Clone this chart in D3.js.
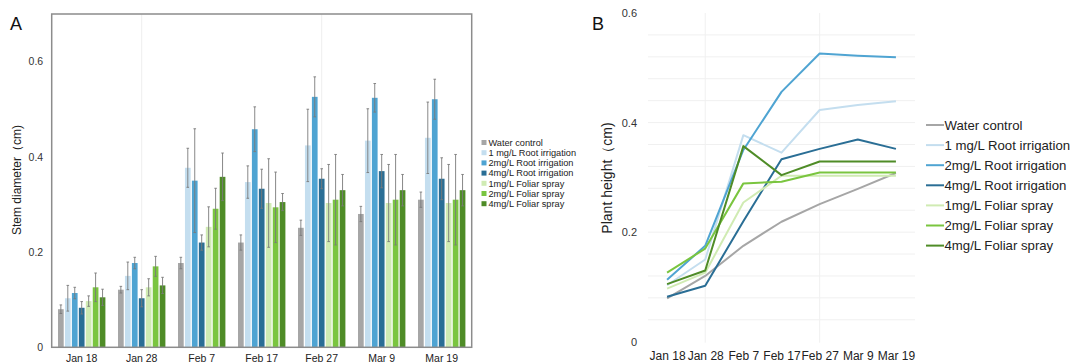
<!DOCTYPE html>
<html>
<head>
<meta charset="utf-8">
<script src="https://cdn.jsdelivr.net/npm/d3@7"></script>
<style>
  body { margin: 0; background: #fff; }
  svg { display: block; font-family: "Liberation Sans", Arial, sans-serif; }
</style>
</head>
<body>
<svg id="chart" width="1076" height="363"></svg>
<script>
// sampling dates
const dates = ["Jan 18", "Jan 28", "Feb 7", "Feb 17", "Feb 27", "Mar 9", "Mar 19"];

// treatments (legend order)
const treatments = [
  "Water control",
  "1 mg/L Root irrigation",
  "2mg/L Root irrigation",
  "4mg/L Root irrigation",
  "1mg/L Foliar spray",
  "2mg/L Foliar spray",
  "4mg/L Foliar spray"
];
const colors = ["#a6a6a6", "#c4deef", "#4fa4d2", "#2a6e95", "#d0ebb3", "#7ac53f", "#4f8c27"];

// stem diameter means (cm), one array per treatment
const waterCtrl  = [0.080, 0.121, 0.177, 0.220, 0.251, 0.280, 0.310];
const root1      = [0.103, 0.150, 0.377, 0.347, 0.424, 0.434, 0.440];
const root2      = [0.114, 0.177, 0.350, 0.458, 0.526, 0.524, 0.521];
const root4      = [0.083, 0.103, 0.220, 0.333, 0.354, 0.370, 0.354];
const foliar1    = [0.097, 0.126, 0.253, 0.303, 0.303, 0.303, 0.303];
const foliar2    = [0.126, 0.170, 0.291, 0.294, 0.310, 0.310, 0.310];
const foliar4    = [0.105, 0.130, 0.358, 0.305, 0.330, 0.330, 0.330];

// error bar half-widths
const waterErr   = [0.009, 0.007, 0.012, 0.016, 0.016, 0.016, 0.016];
const root1Err   = [0.027, 0.029, 0.041, 0.034, 0.076, 0.067, 0.075];
const root2Err   = [0.012, 0.012, 0.109, 0.047, 0.042, 0.030, 0.042];
const root4Err   = [0.013, 0.018, 0.016, 0.041, 0.021, 0.035, 0.044];
const foliar1Err = [0.011, 0.018, 0.042, 0.093, 0.081, 0.081, 0.081];
const foliar2Err = [0.030, 0.021, 0.043, 0.074, 0.095, 0.095, 0.095];
const foliar4Err = [0.017, 0.017, 0.050, 0.018, 0.033, 0.033, 0.033];

// plant height (panel B)
const waterH   = [0.079, 0.120, 0.175, 0.219, 0.251, 0.279, 0.308];
const root1H   = [0.103, 0.150, 0.377, 0.345, 0.423, 0.432, 0.439];
const root2H   = [0.113, 0.175, 0.350, 0.456, 0.526, 0.522, 0.519];
const root4H   = [0.082, 0.102, 0.220, 0.333, 0.352, 0.369, 0.352];
const foliar1H = [0.097, 0.126, 0.254, 0.303, 0.303, 0.303, 0.303];
const foliar2H = [0.126, 0.170, 0.289, 0.292, 0.309, 0.309, 0.309];
const foliar4H = [0.105, 0.130, 0.357, 0.304, 0.329, 0.329, 0.329];

const yTicksA = [0, 0.2, 0.4, 0.6];
const yTicksB = [0, 0.2, 0.4, 0.6];
const faintGridDates = ["Jan 28", "Feb 27"];

const means = [waterCtrl, root1, root2, root4, foliar1, foliar2, foliar4];
const errs = [waterErr, root1Err, root2Err, root4Err, foliar1Err, foliar2Err, foliar4Err];
const heights = [waterH, root1H, root2H, root4H, foliar1H, foliar2H, foliar4H];

const svg = d3.select("#chart");
svg.append("rect").attr("width", 1076).attr("height", 363).attr("fill", "#fff");
const tickFmt = d => d === 0 ? "0" : d3.format(".1f")(d);

// ---------- panel A: grouped bars ----------
const A = { left: 51.7, right: 471.7, top: 14, bottom: 347.3 };
const xA = d3.scaleBand().domain(dates).range([A.left, A.right]).paddingInner(0.21).paddingOuter(0.105);
const xSub = d3.scaleBand().domain(treatments).range([0, xA.bandwidth()]).paddingInner(0.18);
const yA = d3.scaleLinear().domain([0, 0.7]).range([A.bottom, A.top]);

const gA = svg.append("g");
gA.selectAll("line.vgrid").data(faintGridDates).join("line")
  .attr("x1", d => xA(d) + xA.bandwidth() / 2).attr("x2", d => xA(d) + xA.bandwidth() / 2)
  .attr("y1", A.top).attr("y2", A.bottom)
  .attr("stroke", "#eeeeee").attr("stroke-width", 1);

const rows = [];
dates.forEach((dt, i) => treatments.forEach((t, k) => rows.push({ dt, t, k, v: means[k][i], e: errs[k][i] })));

gA.selectAll("rect.bar").data(rows).join("rect")
  .attr("x", d => xA(d.dt) + xSub(d.t))
  .attr("y", d => yA(d.v))
  .attr("width", xSub.bandwidth())
  .attr("height", d => yA(0) - yA(d.v))
  .attr("fill", d => colors[d.k]);

const eb = gA.selectAll("g.err").data(rows).join("g")
  .attr("transform", d => `translate(${xA(d.dt) + xSub(d.t) + xSub.bandwidth() / 2},0)`)
  .attr("stroke", "#7a7a7a").attr("stroke-width", 0.9);
eb.append("line").attr("y1", d => yA(d.v - d.e)).attr("y2", d => yA(d.v + d.e));
eb.append("line").attr("x1", -1.3).attr("x2", 1.3).attr("y1", d => yA(d.v + d.e)).attr("y2", d => yA(d.v + d.e));
eb.append("line").attr("x1", -1.3).attr("x2", 1.3).attr("y1", d => yA(d.v - d.e)).attr("y2", d => yA(d.v - d.e));

gA.append("rect")
  .attr("x", A.left).attr("y", A.top)
  .attr("width", A.right - A.left).attr("height", A.bottom - A.top)
  .attr("fill", "none").attr("stroke", "#8c8c8c").attr("stroke-width", 1.5);

const axYA = gA.append("g").attr("transform", `translate(${A.left},0)`)
  .call(d3.axisLeft(yA).tickValues(yTicksA).tickSize(0).tickPadding(8.5).tickFormat(tickFmt));
axYA.select(".domain").remove();
axYA.selectAll("text").attr("font-size", 10.5).attr("fill", "#333").attr("font-family", null);

const axXA = gA.append("g").attr("transform", `translate(0,${A.bottom})`)
  .call(d3.axisBottom(xA).tickSize(0).tickPadding(7));
axXA.select(".domain").remove();
axXA.selectAll("text").attr("font-size", 10.5).attr("fill", "#222").attr("font-family", null);

gA.append("text").attr("transform", "translate(21,180) rotate(-90)")
  .attr("text-anchor", "middle").attr("font-size", 12).attr("fill", "#222")
  .text("Stem diameter（cm)");

svg.append("text").attr("x", 10).attr("y", 30).attr("font-size", 18).attr("fill", "#111").text("A");

const legA = svg.append("g").selectAll("g").data(treatments).join("g")
  .attr("transform", (d, i) => `translate(481.5,${142.5 + i * 10.2})`);
legA.append("rect").attr("x", 0).attr("y", -2.5).attr("width", 5).attr("height", 5).attr("fill", (d, i) => colors[i]);
legA.append("text").attr("x", 7).attr("dy", "0.35em").attr("font-size", 9.2).attr("fill", "#222").text(d => d);

// ---------- panel B: lines ----------
const B = { left: 648, right: 915, top: 13, bottom: 341.7 };
const xB = d3.scalePoint().domain(dates).range([B.left, B.right]).padding(0.5);
const yB = d3.scaleLinear().domain([0, 0.6]).range([B.bottom, B.top]);

const gB = svg.append("g");
gB.selectAll("line.hgrid").data(d3.range(1, 15).map(i => i * 0.04)).join("line")
  .attr("x1", B.left).attr("x2", B.right)
  .attr("y1", d => yB(d)).attr("y2", d => yB(d))
  .attr("stroke", "#f0f0f0").attr("stroke-width", 1);
gB.selectAll("line.vgrid").data(faintGridDates).join("line")
  .attr("x1", d => xB(d)).attr("x2", d => xB(d))
  .attr("y1", B.top).attr("y2", B.bottom + 1)
  .attr("stroke", "#f0f0f0").attr("stroke-width", 1);

const line = d3.line().x((d, i) => xB(dates[i])).y(d => yB(d));
gB.selectAll("path.series").data(heights).join("path")
  .attr("d", line)
  .attr("fill", "none")
  .attr("stroke", (d, i) => colors[i])
  .attr("stroke-width", 2)
  .attr("stroke-linejoin", "round");

const axYB = gB.append("g").attr("transform", `translate(${B.left},0)`)
  .call(d3.axisLeft(yB).tickValues(yTicksB).tickSize(0).tickPadding(11).tickFormat(tickFmt));
axYB.select(".domain").remove();
axYB.selectAll("text").attr("font-size", 11).attr("fill", "#333").attr("font-family", null);

const axXB = gB.append("g").attr("transform", `translate(0,${B.bottom})`)
  .call(d3.axisBottom(xB).tickSize(0).tickPadding(9.5));
axXB.select(".domain").remove();
axXB.selectAll("text").attr("font-size", 12).attr("fill", "#222").attr("font-family", null);

gB.append("text").attr("transform", "translate(612,178) rotate(-90)")
  .attr("text-anchor", "middle").attr("font-size", 14).attr("fill", "#222")
  .text("Plant height（cm)");

svg.append("text").attr("x", 592).attr("y", 30).attr("font-size", 18).attr("fill", "#111").text("B");

const legB = svg.append("g").selectAll("g").data(treatments).join("g")
  .attr("transform", (d, i) => `translate(926,${125 + i * 20.1})`);
legB.append("line").attr("x1", 0).attr("x2", 18).attr("stroke", (d, i) => colors[i]).attr("stroke-width", 2);
legB.append("text").attr("x", 18.5).attr("dy", "0.35em").attr("font-size", 13.2).attr("fill", "#222").text(d => d);
</script>
</body>
</html>
